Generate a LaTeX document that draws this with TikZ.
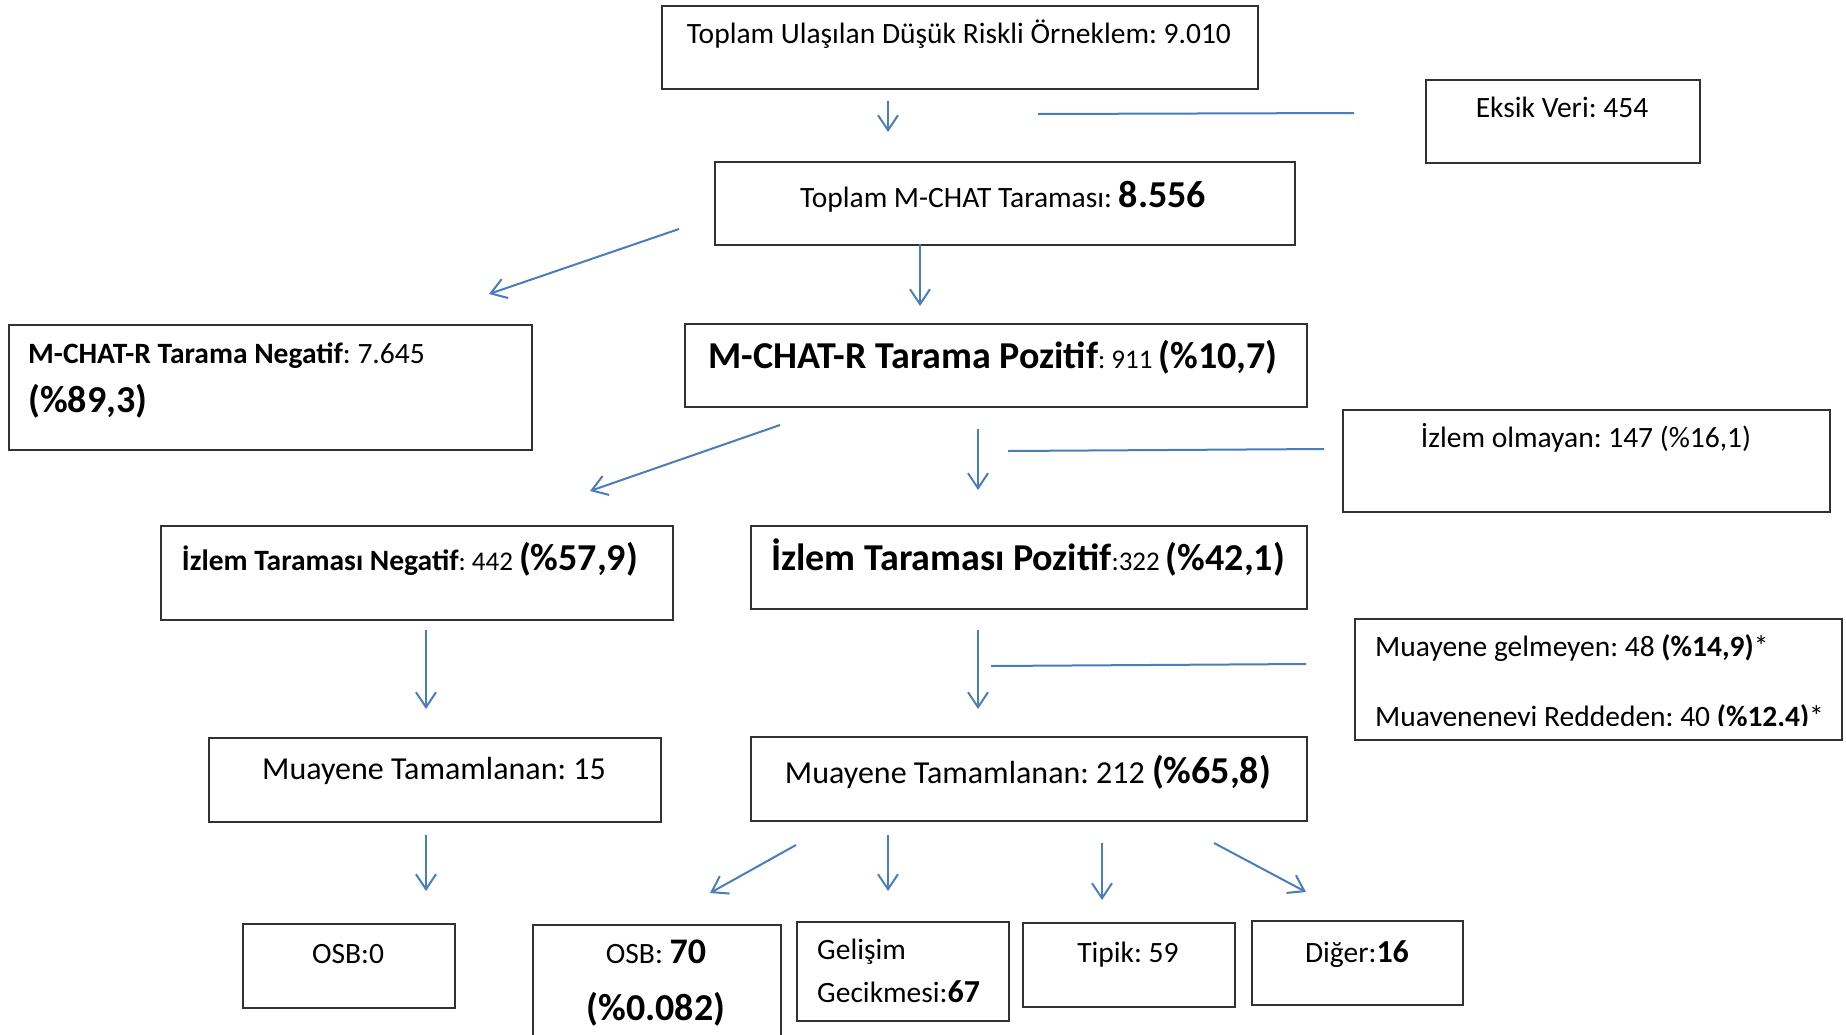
\documentclass[tikz,border=0pt]{standalone}
\usepackage{fontspec}
\setmainfont{Carlito}
\usetikzlibrary{arrows.meta}

\definecolor{arrowblue}{RGB}{74,126,187}
\definecolor{boxline}{RGB}{50,50,50}

\newcommand\bigbold[1]{{\bfseries\fontsize{38}{42}\selectfont #1}}
\newcommand\midbold[1]{{\bfseries\fontsize{32}{36}\selectfont #1}}
\newcommand\smalltxt[1]{{\fontsize{27}{31}\selectfont #1}}
\frenchspacing

\begin{document}
\begin{tikzpicture}[x=1pt,y=-1pt,
  box/.style={draw=boxline, line width=1.8pt, rectangle, inner sep=0pt, anchor=north west},
  lbl/.style={inner sep=0pt, anchor=base, font=\fontsize{29.5}{34}\selectfont},
  lbll/.style={lbl, anchor=base west},
  larger/.style={font=\fontsize{32}{37}\selectfont},
  conn/.style={draw=arrowblue, line width=2pt, -{Straight Barb[length=15pt,width=20pt]}},
  link/.style={draw=arrowblue, line width=2pt}]

\useasboundingbox (0,0) rectangle (1846,1034);

% boxes
\node[box, minimum width=596pt, minimum height=83pt] (total) at (661,5) {};
\node[box, minimum width=274pt, minimum height=83pt] (missing) at (1425,79) {};
\node[box, minimum width=580pt, minimum height=83pt] (mchat) at (714,161) {};
\node[box, minimum width=523pt, minimum height=125pt] (neg) at (8,324) {};
\node[box, minimum width=622pt, minimum height=83pt] (pos) at (684,323) {};
\node[box, minimum width=487pt, minimum height=102pt] (nofollow) at (1342,409) {};
\node[box, minimum width=512pt, minimum height=94pt] (fneg) at (160,525) {};
\node[box, minimum width=556pt, minimum height=83pt] (fpos) at (750,525) {};
\node[box, minimum width=487pt, minimum height=121pt] (absent) at (1354,618) {};
\node[box, minimum width=452pt, minimum height=84pt] (exneg) at (208,737) {};
\node[box, minimum width=556pt, minimum height=84pt] (expos) at (750,736) {};
\node[box, minimum width=212pt, minimum height=84pt] (osbzero) at (242,923) {};
\node[box, minimum width=248pt, minimum height=130pt] (osb) at (532,924) {};
\node[box, minimum width=212pt, minimum height=99pt] (delay) at (796,921) {};
\node[box, minimum width=212pt, minimum height=84pt] (typical) at (1022,922) {};
\node[box, minimum width=211pt, minimum height=84pt] (other) at (1251,920) {};

% texts
\node[lbl] (t-total) at (959,43) {Toplam Ulaşılan Düşük Riskli Örneklem: 9.010};
\node[lbl] (t-missing) at (1562,117) {Eksik Veri: 454};
\node[lbl] (t-mchat) at (1003,207) {Toplam M-CHAT Taraması: \bigbold{8.556}};
\node[lbll] (t-neg1) at (28,363) {\textbf{M-CHAT-R Tarama Negatif}: 7.645};
\node[lbll] (t-neg2) at (28,412) {\bigbold{(\%89,3)}};
\node[lbl] (t-pos) at (993,368) {\bigbold{M-CHAT-R Tarama Pozitif}\smalltxt{: 911 }\bigbold{(\%10,7)}};
\node[lbl] (t-nofollow) at (1586,447) {İzlem olmayan: 147 (\%16,1)};
\node[lbl] (t-fneg) at (410,570) {\textbf{İzlem Taraması Negatif}\smalltxt{: 442 }\bigbold{(\%57,9)}};
\node[lbl] (t-fpos) at (1028,570) {\bigbold{İzlem Taraması Pozitif}\smalltxt{:322 }\bigbold{(\%42,1)}};
\node[lbll] (t-absent1) at (1375,656) {Muayene gelmeyen: 48 \textbf{(\%14,9)}*};
\begin{scope}
  \clip (1354,618) rectangle (1841,725);
  \node[lbll] (t-absent2) at (1375,726) {Muayeneneyi Reddeden: 40 \textbf{(\%12,4)}*};
\end{scope}
\node[lbl, larger] (t-exneg) at (434,779) {Muayene Tamamlanan: 15};
\node[lbl, larger] (t-expos) at (1028,783) {Muayene Tamamlanan: 212 \bigbold{(\%65,8)}};
\node[lbl] (t-osbzero) at (348,963) {OSB:0};
\node[lbl] (t-osb1) at (656,963) {OSB: {\bfseries\fontsize{36}{40}\selectfont 70}};
\node[lbl] (t-osb2) at (656,1020) {\bigbold{(\%0.082)}};
\node[lbll] (t-delay1) at (817,959) {Gelişim};
\node[lbll] (t-delay2) at (817,1002) {Gecikmesi:\midbold{67}};
\node[lbl] (t-typical) at (1128,962) {Tipik: 59};
\node[lbl] (t-other) at (1357,962) {Diğer:\midbold{16}};

% connector end points
\coordinate (a1s) at (888,101);  \coordinate (a1e) at (888,132);
\coordinate (l1s) at (1038,114); \coordinate (l1e) at (1354,113);
\coordinate (a2s) at (920,244);  \coordinate (a2e) at (920,306);
\coordinate (a3s) at (679,229);  \coordinate (a3e) at (489,294);
\coordinate (a4s) at (780,425);  \coordinate (a4e) at (590,491);
\coordinate (a5s) at (978,429);  \coordinate (a5e) at (978,490);
\coordinate (l2s) at (1008,451); \coordinate (l2e) at (1324,449);
\coordinate (a6s) at (426,630);  \coordinate (a6e) at (426,709);
\coordinate (a7s) at (978,630);  \coordinate (a7e) at (978,709);
\coordinate (l3s) at (991,666);  \coordinate (l3e) at (1306,664);
\coordinate (a8s) at (426,835);  \coordinate (a8e) at (426,891);
\coordinate (a9s) at (796,845);  \coordinate (a9e) at (710,893);
\coordinate (a10s) at (888,835); \coordinate (a10e) at (888,891);
\coordinate (a11s) at (1102,843); \coordinate (a11e) at (1102,900);
\coordinate (a12s) at (1214,843); \coordinate (a12e) at (1306,892);

% connectors
\draw[conn] (a1s) -- (a1e);
\draw[link] (l1s) -- (l1e);
\draw[conn] (a2s) -- (a2e);
\draw[conn] (a3s) -- (a3e);
\draw[conn] (a4s) -- (a4e);
\draw[conn] (a5s) -- (a5e);
\draw[link] (l2s) -- (l2e);
\draw[conn] (a6s) -- (a6e);
\draw[conn] (a7s) -- (a7e);
\draw[link] (l3s) -- (l3e);
\draw[conn] (a8s) -- (a8e);
\draw[conn] (a9s) -- (a9e);
\draw[conn] (a10s) -- (a10e);
\draw[conn] (a11s) -- (a11e);
\draw[conn] (a12s) -- (a12e);
\end{tikzpicture}
\end{document}
